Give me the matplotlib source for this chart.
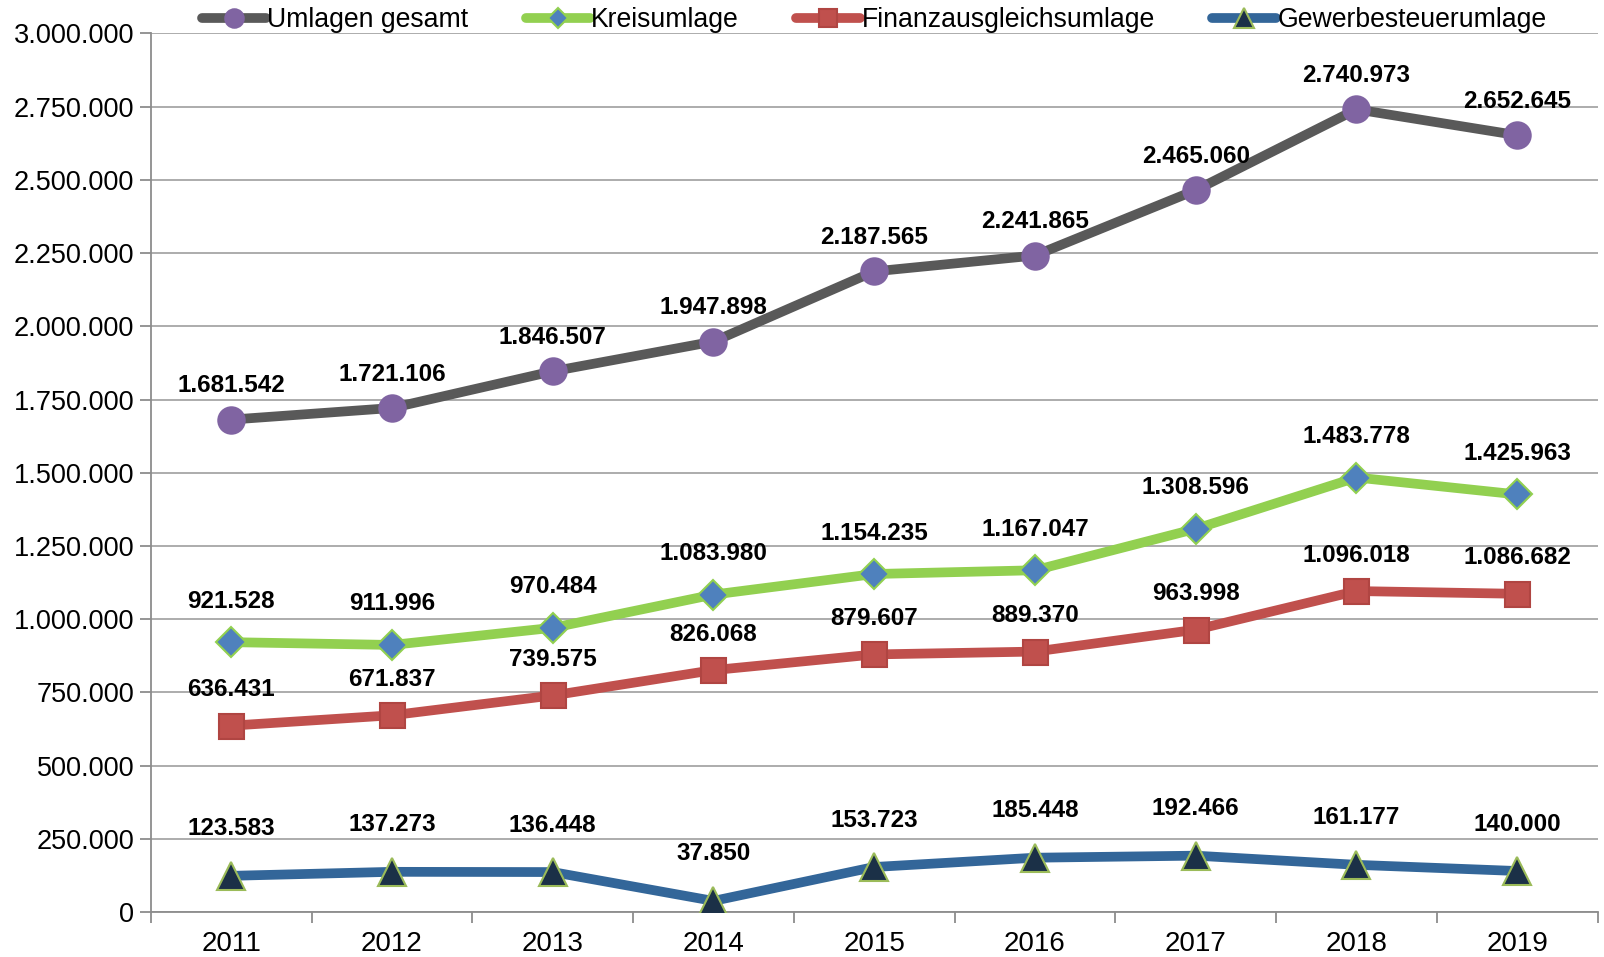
import numpy as np
import matplotlib.pyplot as plt
from matplotlib.ticker import FuncFormatter, FixedLocator

plt.rcParams['font.family'] = ['Liberation Sans', 'DejaVu Sans']

jahre = ['2011', '2012', '2013', '2014', '2015', '2016', '2017', '2018', '2019']
umlagen_gesamt = [1681542, 1721106, 1846507, 1947898, 2187565, 2241865, 2465060, 2740973, 2652645]
kreisumlage = [921528, 911996, 970484, 1083980, 1154235, 1167047, 1308596, 1483778, 1425963]
finanzausgleich = [636431, 671837, 739575, 826068, 879607, 889370, 963998, 1096018, 1086682]
gewerbesteuer = [123583, 137273, 136448, 37850, 153723, 185448, 192466, 161177, 140000]


def fmt(v):
    return f'{int(v):,}'.replace(',', '.')


fig = plt.figure(figsize=(16.04, 9.57), dpi=100)
ax = fig.add_axes([0.094, 0.047, 0.902, 0.918])

x = np.arange(len(jahre))

serien = [
    ('Umlagen gesamt', umlagen_gesamt, '#595959', 'o', '#8064A2', '#8064A2', 19, 34),
    ('Kreisumlage', kreisumlage, '#92D050', 'D', '#4F81BD', '#92D050', 15, 41),
    ('Finanzausgleichsumlage', finanzausgleich, '#C0504D', 's', '#C0504D', '#B04542', 18, 36),
    ('Gewerbesteuerumlage', gewerbesteuer, '#336699', '^', '#1B3047', '#9BBB59', 20, 47),
]

for name, werte, farbe, marker, mface, medge, msize, dy in serien:
    ax.plot(x, werte, color=farbe, lw=7, marker=marker, markersize=msize,
            markerfacecolor=mface, markeredgecolor=medge, markeredgewidth=1.5,
            label=name, zorder=3, solid_capstyle='round')
    for xi, v in zip(x, werte):
        ax.annotate(fmt(v), (xi, v), xytext=(0, dy), textcoords='offset pixels',
                    ha='center', va='center', fontsize=17.5, fontweight='bold',
                    color='black', zorder=4)

ax.set_xlim(-0.5, len(jahre) - 0.5)
ax.set_ylim(0, 3000000)
ax.set_yticks(np.arange(0, 3000001, 250000))
ax.yaxis.set_major_formatter(FuncFormatter(lambda v, p: fmt(v)))
ax.grid(axis='y', color='#A6A6A6', lw=1.3)
ax.set_axisbelow(True)

ax.set_xticks(x)
ax.set_xticklabels(jahre)
ax.tick_params(axis='x', which='major', length=0, pad=14, labelsize=20)
ax.xaxis.set_minor_locator(FixedLocator(np.arange(-0.5, len(jahre), 1.0)))
ax.tick_params(axis='x', which='minor', length=8, width=1.3, color='#8C8C8C')
ax.tick_params(axis='y', length=8, width=1.3, color='#8C8C8C', labelsize=19.5, pad=4)

for s in ['top', 'right']:
    ax.spines[s].set_visible(False)
for s in ['left', 'bottom']:
    ax.spines[s].set_color('#8C8C8C')
    ax.spines[s].set_linewidth(1.3)

fig.legend(loc='center', bbox_to_anchor=(0.545, 0.979), ncol=4, frameon=False,
           fontsize=19.2, handlelength=2.4, handletextpad=0.05, columnspacing=2.15,
           markerscale=0.7)

fig.savefig('out.png', dpi=100)
